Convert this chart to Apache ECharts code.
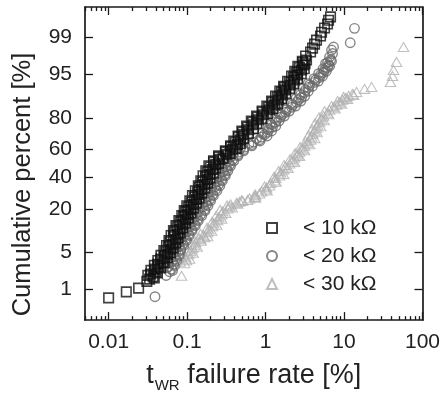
<!DOCTYPE html>
<html><head><meta charset="utf-8">
<script src="https://cdn.jsdelivr.net/npm/echarts@6/dist/echarts.min.js"></script>
<style>html,body{margin:0;padding:0;background:#fff}#c{width:443px;height:398px}</style>
</head><body><div id="c"></div>
<script>
// ---------- data (x = tWR failure rate [%], y = cumulative percent [%]) ----------
const seriesNames = ['< 10 kΩ', '< 20 kΩ', '< 30 kΩ'];
const xTickValues = [0.01, 0.1, 1, 10, 100];
const xTickLabels = ['0.01', '0.1', '1', '10', '100'];
const yTickPercents = [1, 5, 20, 40, 60, 80, 95, 99];
const yTickLabels = ['1', '5', '20', '40', '60', '80', '95', '99'];

const data10k = [[0.01,0.64],[0.0168,0.87],[0.0241,1.05],[0.0307,1.45],
[0.0333,1.61],[0.0369,1.80],[0.0343,2.02],[0.0397,2.25],[0.0385,2.51],[0.0434,2.80],[0.0421,3.10],[0.0488,3.44],[0.0460,3.81],[0.0517,4.21],[0.0565,4.64],[0.0532,5.10],[0.0616,5.60],[0.0581,6.14],[0.0653,6.72],[0.0616,7.34],[0.0714,8.00],[0.0673,8.71],[0.0757,9.46],[0.0693,10.26],[0.0803,11.11],[0.0757,12.00],[0.0877,12.95],[0.0827,13.94],[0.0957,14.99],[0.0902,16.09],[0.1014,17.23],[0.0957,18.43],[0.1108,19.68],[0.1045,20.98],[0.121,22.33],[0.1141,23.73],[0.1321,25.17],[0.1246,26.69],[0.140,28.23],[0.1361,29.80],[0.1529,31.42],[0.1442,33.07],[0.1668,34.75],[0.1574,36.47],[0.1822,38.21],[0.1718,39.97],[0.1936,41.76],[0.1822,43.56],[0.2114,45.38],[0.1994,47.21],[0.2312,49.04],[0.218,50.88],[0.2595,52.71],[0.252,54.54],[0.3189,56.36],[0.3097,58.16],[0.3801,59.95],[0.3585,61.72],[0.4397,63.46],[0.4147,65.17],[0.4804,66.86],[0.453,68.54],[0.525,70.16],[0.5094,71.74],[0.607,73.27],[0.5904,74.76],[0.703,76.20],[0.6826,77.60],[0.814,78.96],[0.7906,80.26],[0.943,81.51],[0.9154,82.72],[1.125,83.87],[1.092,84.96],[1.303,86.01],[1.228,87.01],[1.464,87.96],[1.423,88.86],[1.646,89.71],[1.599,90.51],[1.799,91.27],[1.747,91.97],[2.083,92.63],[2.023,93.26],[2.342,93.83],[2.274,94.38],[2.557,94.89],[2.483,95.35],[2.875,95.78],[2.711,96.18],[3.049,96.55],[2.961,96.88],[3.330,97.19],[3.234,97.63],[3.745,98.02],[3.971,98.34],[4.211,98.62],[4.465,98.86],[5.021,99.07],[5.171,99.23],[5.646,99.38],[6.166,99.50],[6.349,99.59],[6.733,99.66],
[0.0382,1.70],[0.0316,1.91],[0.0419,2.13],[0.0346,2.38],[0.0460,2.65],[0.0383,2.95],[0.0510,3.27],[0.0424,3.62],[0.0560,4.01],[0.0464,4.42],[0.0612,4.87],[0.0506,5.35],[0.0666,5.87],[0.0547,6.43],[0.0717,7.03],[0.0588,7.67],[0.0768,8.35],[0.0625,9.08],[0.0818,9.86],[0.0670,10.68],[0.0880,11.55],[0.0721,12.47],[0.0950,13.44],[0.0786,14.46],[0.1037,15.54],[0.0856,16.66],[0.1121,17.83],[0.0919,19.05],[0.1207,20.33],[0.0992,21.65],[0.1312,23.03],[0.1084,24.45],[0.1425,25.93],[0.1170,27.46],[0.1540,29.02],[0.1274,30.61],[0.1681,32.25],[0.1391,33.91],[0.1822,35.61],[0.1496,37.34],[0.1965,39.09],[0.1598,40.87],[0.2161,42.66],[0.1731,44.47],[0.2295,46.30],[0.1894,48.13],[0.2513,49.96],[0.2171,51.80],[0.2876,53.63],[0.252,55.45],[0.3532,57.26],[0.3074,59.06],[0.4239,60.84],[0.3584,62.59],[0.4769,64.32],[0.3939,66.02],[0.525,67.70],[0.4462,69.35],[0.6057,70.95],[0.4984,72.51],[0.7003,74.02],[0.5733,75.48],[0.7735,76.90],[0.6580,78.28],[0.8956,79.61],[0.7677,80.89],[1.0528,82.12],[0.9021,83.30],[1.2371,84.42],[1.0376,85.49],[1.4226,86.51],[1.1925,87.49],[1.599,88.41],[1.3415,89.29],[1.8118,90.11],[1.5187,90.89],[2.0225,91.62],[1.696,92.30],[2.274,92.95],[1.9074,93.55],[2.557,94.11],[2.145,94.64],[2.8544,95.12],[2.359,95.57],[3.117,95.98],[2.576,96.37],[3.187,96.72],[2.9395,97.04]];

const data20k = [[0.039,0.68],[0.054,1.9],
[0.0598,2.25],[0.0634,2.51],[0.0581,2.80],[0.0673,3.10],[0.0634,3.44],[0.0714,3.81],[0.0673,4.21],[0.078,4.64],[0.0714,5.10],[0.0827,5.60],[0.078,6.14],[0.0877,6.72],[0.0827,7.34],[0.0957,8.00],[0.0902,8.71],[0.1045,9.46],[0.0985,10.26],[0.1141,11.11],[0.1076,12.00],[0.1246,12.95],[0.1175,13.94],[0.1361,14.99],[0.1283,16.09],[0.1485,17.23],[0.140,18.43],[0.1668,19.68],[0.1574,20.98],[0.1769,22.33],[0.1718,23.73],[0.1936,25.17],[0.1822,26.69],[0.2114,28.23],[0.1994,29.80],[0.2312,31.42],[0.2245,33.07],[0.252,34.75],[0.2379,36.47],[0.2752,38.21],[0.2595,39.97],[0.3007,41.76],[0.2834,43.56],[0.3189,45.38],[0.3097,47.21],[0.3481,49.04],[0.338,50.88],[0.3801,52.71],[0.3585,54.54],[0.4397,56.36],[0.453,58.16],[0.525,59.95],[0.5406,61.72],[0.6629,63.46],[0.703,65.17],[0.8383,66.86],[0.889,68.54],[0.9711,70.16],[1.0605,71.74],[1.092,73.27],[1.228,74.76],[1.1925,76.20],[1.3415,77.60],[1.381,78.96],[1.553,80.26],[1.599,81.51],[1.799,82.72],[1.852,83.87],[2.145,84.96],[2.209,86.01],[2.483,87.01],[2.633,87.96],[2.875,88.86],[2.792,89.71],[3.140,90.51],[3.234,91.27],[3.531,91.97],[3.636,92.63],[4.211,93.26],[4.336,93.83],[4.876,94.38],[5.021,94.89],[5.483,95.35],[5.646,95.78],[6.166,96.18],[6.349,96.55],[6.166,96.88],[6.733,97.19],[6.538,97.53],[7.14,97.88],[6.933,98.19],[7.353,98.42],[12.0,98.71],[13.6,99.37],
[0.0653,2.38],[0.0548,2.65],[0.0693,2.95],[0.0581,3.27],[0.0740,3.62],[0.0625,4.01],[0.0797,4.42],[0.0673,4.87],[0.0827,5.35],[0.0714,5.87],[0.0909,6.43],[0.0774,7.03],[0.0985,7.67],[0.0833,8.35],[0.1068,9.08],[0.0902,9.86],[0.1158,10.68],[0.0992,11.55],[0.1274,12.47],[0.1084,13.44],[0.1391,14.46],[0.1193,15.54],[0.1540,16.66],[0.1312,17.83],[0.1693,19.05],[0.1448,20.33],[0.1844,21.65],[0.1586,23.03],[0.1994,24.45],[0.1681,25.93],[0.2161,27.46],[0.1849,29.02],[0.2399,30.61],[0.2038,32.25],[0.2614,33.91],[0.2212,35.61],[0.2813,37.34],[0.2381,39.09],[0.3074,40.87],[0.2595,42.66],[0.3308,44.47],[0.2793,46.30],[0.3584,48.13],[0.3052,49.96],[0.3939,51.80],[0.3357,53.63],[0.4462,55.45],[0.391,57.26],[0.525,59.06],[0.4769,60.84],[0.6678,62.59],[0.616,64.32],[0.8507,66.02],[0.7677,67.70],[1.045,69.35],[0.9087,70.95],[1.1925,72.51],[1.0605,74.02],[1.3514,75.48],[1.1495,76.90],[1.4857,78.28],[1.3027,79.61],[1.7338,80.89],[1.5187,82.12],[2.0078,83.30],[1.7854,84.42],[2.4116,85.49],[2.1292,86.51],[2.8128,87.49],[2.4473,88.41],[3.163,89.29],[2.7115,90.11],[3.5054,90.89],[3.0271,91.62],[3.971,92.30],[3.4795,92.95],[4.701,93.55],[4.1495,94.11],[5.325,94.64],[4.735,95.12],[5.944,95.57],[5.4036,95.98],[6.538,96.37],[5.8147,96.72],[6.933,97.04]];

const data30k = [[0.085,1.87],[0.0929,3.24],[0.0985,3.66],[0.0957,4.13],[0.1045,4.64],[0.1108,5.20],[0.1175,5.81],[0.1246,6.48],[0.1283,7.21],[0.1485,8.00],[0.1668,8.56],[0.162,9.16],[0.1822,10.10],[0.188,11.11],[0.2114,12.18],[0.218,13.35],[0.2449,14.57],[0.252,15.87],[0.2752,17.23],[0.2834,18.70],[0.3284,20.21],[0.3481,21.27],[0.3585,22.33],[0.4270,23.23],[0.4665,23.80],[0.5094,24.37],[0.5904,24.9],[0.625,25.78],[0.724,26.69],[0.7456,27.6],[0.838,28.85],[0.889,30.12],[1.0,31.42],[1.03,32.7],[1.125,34.05],[1.158,35.76],[1.303,37.5],[1.3415,39.25],[1.508,41.0],[1.553,43.2],[1.696,45.38],[1.799,47.57],[2.023,49.8],[2.209,51.98],[2.342,54.2],[2.557,56.36],[2.711,58.5],[2.961,60.68],[3.140,62.78],[3.429,64.84],[3.745,66.86],[3.856,68.86],[3.971,70.78],[4.211,72.64],[4.465,74.45],[4.598,76.20],[4.876,77.88],[5.171,79.48],[5.483,81.01],[6.166,82.48],[6.538,83.87],[7.353,84.96],[8.03,86.01],[8.764,87.01],[9.575,87.96],[10.46,88.69],[11.42,89.38],[12.84,90.04],[14.43,90.66],[18.26,91.56],[22.42,92.11],[39.16,93.38],[41.53,94.68],[42.76,95.78],[46.69,96.95],[57.3,98.42],
[0.0815,3.44],[0.1076,3.89],[0.0902,4.38],[0.1193,4.91],[0.1029,5.50],[0.1341,6.14],[0.1141,6.84],[0.1507,7.60],[0.1421,8.28],[0.1822,8.86],[0.1485,9.62],[0.2053,10.60],[0.1795,11.64],[0.2381,12.76],[0.2083,13.94],[0.2752,15.22],[0.2346,16.54],[0.3097,17.95],[0.2634,19.43],[0.3746,20.73],[0.3236,21.80],[0.4397,22.78],[0.4947,24.6],[0.7455,26.2],[0.7347,28.23],[1.045,30.77],[0.9711,33.4],[1.3614,36.6],[1.2837,40.1],[1.696,42.1],[1.464,44.3],[1.9355,46.5],[1.7211,48.7],[2.342,50.88],[2.0526,53.1],[2.711,55.3],[2.3766,57.4],[3.140,59.6],[2.7518,61.72],[3.636,63.8],[3.234,65.9],[4.211,67.9],[3.531,69.8],[4.5314,71.74],[3.9131,73.6],[5.021,75.3],[4.2734,77.0],[5.5641,78.7],[4.8051,80.26],[6.349,81.75],[5.646,83.2],[7.6846,84.4],[6.933,85.5],[9.293,86.5],[8.269,87.5],[11.09,88.3],[9.86,89.0],[13.22,89.7]];

// ---------- normal-probability (probit) transform for the y axis ----------
function probit(p) {
  const a=[-3.969683028665376e+01,2.209460984245205e+02,-2.759285104469687e+02,1.383577518672690e+02,-3.066479806614716e+01,2.506628277459239e+00];
  const b=[-5.447609879822406e+01,1.615858368580409e+02,-1.556989798598866e+02,6.680131188771972e+01,-1.328068155288572e+01];
  const c=[-7.784894002430293e-03,-3.223964580411365e-01,-2.400758277161838e+00,-2.549732539343734e+00,4.374664141464968e+00,2.938163982698783e+00];
  const d=[7.784695709041462e-03,3.224671290700398e-01,2.445134137142996e+00,3.754408661907416e+00];
  const pl=0.02425, ph=1-pl; let q, r;
  if (p < pl) { q=Math.sqrt(-2*Math.log(p)); return (((((c[0]*q+c[1])*q+c[2])*q+c[3])*q+c[4])*q+c[5])/((((d[0]*q+d[1])*q+d[2])*q+d[3])*q+1); }
  if (p <= ph) { q=p-0.5; r=q*q; return (((((a[0]*r+a[1])*r+a[2])*r+a[3])*r+a[4])*r+a[5])*q/(((((b[0]*r+b[1])*r+b[2])*r+b[3])*r+b[4])*r+1); }
  q=Math.sqrt(-2*Math.log(1-p)); return -(((((c[0]*q+c[1])*q+c[2])*q+c[3])*q+c[4])*q+c[5])/((((d[0]*q+d[1])*q+d[2])*q+d[3])*q+1);
}
const toPlot = arr => arr.map(([x, pct]) => [x, probit(pct / 100)]);
const yTickValues = yTickPercents.map(p => probit(p / 100));

const xMinorTicks = [];
for (let e = -3; e <= 1; e++) for (let m = 2; m <= 9; m++) {
  const v = +(m * Math.pow(10, e)).toPrecision(3);
  if (v >= 0.005 && v <= 100) xMinorTicks.push(v);
}

const FONT = '"Liberation Sans", Arial, Helvetica, sans-serif';
const INK = '#1a1a1a';
const lineStyle = { color: INK, width: 1.7 };

function xLabel(v) {
  for (let i = 0; i < xTickValues.length; i++) if (Math.abs(Math.log10(v) - Math.log10(xTickValues[i])) < 1e-6) return xTickLabels[i];
  return '';
}
function yLabel(v) {
  for (let i = 0; i < yTickValues.length; i++) if (Math.abs(v - yTickValues[i]) < 1e-6) return yTickLabels[i];
  return '';
}

function xAxisDef(pos, major, showLine) {
  return {
    type: 'log', logBase: 10, min: 0.005, max: 100, position: pos, gridIndex: 0,
    axisLine: { show: showLine, onZero: false, lineStyle },
    axisTick: { show: true, inside: true, length: major ? 8 : 4, customValues: major ? xTickValues : xMinorTicks, lineStyle: { color: INK, width: 1.3 } },
    axisLabel: { show: false },
    splitLine: { show: false }, minorTick: { show: false }, minorSplitLine: { show: false }
  };
}
const xBottom = xAxisDef('bottom', true, true);
xBottom.axisLabel = { show: true, customValues: xTickValues, formatter: xLabel, margin: 12, fontSize: 21, color: '#222', fontFamily: FONT };
xBottom.name = '{t|t}{s|WR}{t| failure rate [%]}';
xBottom.nameLocation = 'middle';
xBottom.nameGap = 30;
xBottom.nameTextStyle = {
  fontFamily: FONT, color: '#222',
  rich: {
    t: { fontSize: 27, lineHeight: 30, fontFamily: FONT, color: '#222' },
    s: { fontSize: 15, lineHeight: 15, padding: [20, 0, 0, 1], fontFamily: FONT, color: '#222' }
  }
};

function yAxisDef(pos, showLabel) {
  return {
    type: 'value', min: -2.9, max: 2.89, position: pos, gridIndex: 0,
    axisLine: { show: true, onZero: false, lineStyle },
    axisTick: { show: true, inside: true, length: 8, customValues: yTickValues, lineStyle: { color: INK, width: 1.3 } },
    axisLabel: showLabel ? { show: true, customValues: yTickValues, formatter: yLabel, margin: 13, fontSize: 21, color: '#222', fontFamily: FONT } : { show: false },
    splitLine: { show: false }
  };
}
const yLeft = yAxisDef('left', true);
yLeft.name = '{a|Cumulative percent [%]}';
yLeft.nameLocation = 'middle';
yLeft.nameRotate = 90;
yLeft.nameGap = 49;
yLeft.nameTextStyle = { fontFamily: FONT, color: '#222', rich: { a: { fontSize: 25.5, fontFamily: FONT, color: '#222', padding: [0, 42, 0, 0] } } };

const hollow = 'rgba(255,255,255,0)';
const option = {
  animation: false,
  backgroundColor: '#fff',
  grid: { left: 85, right: 19, top: 7, bottom: 77, containLabel: false },
  xAxis: [xBottom, xAxisDef('bottom', false, false), xAxisDef('top', true, true), xAxisDef('top', false, false)],
  yAxis: [yLeft, yAxisDef('right', false)],
  legend: {
    orient: 'vertical', left: 261, top: 212, itemWidth: 10, itemHeight: 10, itemGap: 6,
    selectedMode: false, data: seriesNames,
    textStyle: { fontSize: 21, fontFamily: FONT, color: '#222', lineHeight: 22, padding: [0, 0, 0, 21] }
  },
  series: [
    { type: 'scatter', name: seriesNames[2], data: toPlot(data30k), symbol: 'triangle', symbolSize: [10.5, 9],
      itemStyle: { color: hollow, borderColor: '#b0b0b0', borderWidth: 1.1 }, silent: true, z: 2 },
    { type: 'scatter', name: seriesNames[1], data: toPlot(data20k), symbol: 'circle', symbolSize: 9.5,
      itemStyle: { color: hollow, borderColor: '#686868', borderWidth: 1.4 }, silent: true, z: 3 },
    { type: 'scatter', name: seriesNames[0], data: toPlot(data10k), symbol: 'rect', symbolSize: 9.5,
      itemStyle: { color: hollow, borderColor: '#101010', borderWidth: 1.6 }, silent: true, z: 4 }
  ]
};
const chart = echarts.init(document.getElementById('c'), null, { renderer: 'canvas' });
chart.setOption(option);
</script>
</body></html>
